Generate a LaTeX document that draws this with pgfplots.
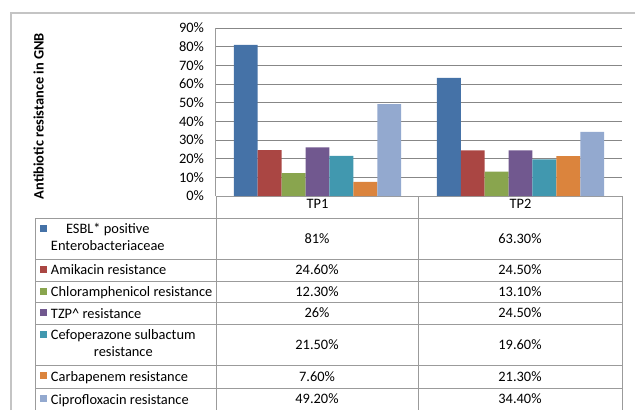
\documentclass[border=0pt]{standalone}
\usepackage{pgfplots}
\pgfplotsset{compat=1.18}
\usepackage{fontspec}
\setmainfont{Carlito}
\definecolor{sA}{HTML}{4572A7}
\definecolor{sB}{HTML}{AA4643}
\definecolor{sC}{HTML}{89A54E}
\definecolor{sD}{HTML}{71588F}
\definecolor{sE}{HTML}{4198AF}
\definecolor{sF}{HTML}{DB843D}
\definecolor{sG}{HTML}{93A9CF}
\definecolor{gridgray}{HTML}{878787}
\definecolor{tabgray}{HTML}{9B9B9B}
\definecolor{bordergray}{HTML}{C4C4C4}
\pgfplotsset{sqlegend/.style={legend image code/.code={\fill[##1] (0pt,2pt) rectangle (7pt,9pt);}}}
\newcommand{\one}[2]{\raisebox{0pt}[15.5pt][#1]{#2}}
\begin{document}
\begin{tikzpicture}[font=\fontsize{14.4}{16.5}\selectfont]
\path[use as bounding box] (0pt,0pt) rectangle (635pt,-410pt);
\draw[bordergray, line width=1.5pt] (11pt,-410pt) -- (11pt,-13pt) -- (635pt,-13pt);
\begin{axis}[
  at={(216pt,-196pt)}, anchor=south west,
  scale only axis, width=406pt, height=168pt,
  xmin=-0.5, xmax=1.5, ymin=0, ymax=90,
  ybar=0pt, bar width=23.9pt,
  axis lines*=left,
  axis line style={draw=tabgray, line width=1pt},
  xtick={0,1}, xticklabels={TP1,TP2},
  major tick length=0pt,
  ytick={0,10,...,90},
  yticklabel={\pgfmathprintnumber{\tick}\%},
  yticklabel style={anchor=east, xshift=-8.5pt},
  /pgf/number format/assume math mode=true,
  ymajorgrids, grid style={draw=gridgray, line width=1pt},
  ylabel={\bfseries Antibiotic resistance in GNB},
  ylabel style={at={(axis description cs:-0.4372,0.476)}, anchor=center},
  clip=false,
  legend style={at={(axis description cs:-0.43350,-0.13095)}, anchor=north west,
    draw=none, fill=none, inner sep=0pt, outer sep=0pt,
    row sep=0pt, column sep=4pt,
    nodes={inner sep=0pt, outer sep=0pt, text depth=},
    cells={anchor=base west}},
]
\addplot[fill=sA, draw=none, sqlegend] coordinates {(0,81) (1,63.3)};
\addlegendentry{\one{25.5pt}{\begin{tabular}[t]{@{}c@{}}ESBL* positive\\Enterobacteriaceae\end{tabular}}}
\addplot[fill=sB, draw=none, sqlegend] coordinates {(0,24.6) (1,24.5)};
\addlegendentry{\one{6.5pt}{Amikacin resistance}}
\addplot[fill=sC, draw=none, sqlegend] coordinates {(0,12.3) (1,13.1)};
\addlegendentry{\one{6pt}{Chloramphenicol resistance}}
\addplot[fill=sD, draw=none, sqlegend] coordinates {(0,26) (1,24.5)};
\addlegendentry{\one{6pt}{TZP\^{} resistance}}
\addplot[fill=sE, draw=none, sqlegend] coordinates {(0,21.5) (1,19.6)};
\addlegendentry{\one{26pt}{\begin{tabular}[t]{@{}c@{}}Cefoperazone sulbactum\\resistance\end{tabular}}}
\addplot[fill=sF, draw=none, sqlegend] coordinates {(0,7.6) (1,21.3)};
\addlegendentry{\one{7.5pt}{Carbapenem resistance}}
\addplot[fill=sG, draw=none, sqlegend] coordinates {(0,49.2) (1,34.4)};
\addlegendentry{\one{6pt}{Ciprofloxacin resistance}}
\end{axis}
% data table grid
\begin{scope}[tabgray, line width=1pt]
\draw (216pt,-196pt) -- (216pt,-410pt);
\draw (418pt,-196pt) -- (418pt,-410pt);
\draw (622pt,-196pt) -- (622pt,-410pt);
\draw (35pt,-218pt) -- (35pt,-410pt);
\foreach \yy in {218,259,281,302.5,324,365.5,388.5}
  \draw (35pt,-\yy pt) -- (622pt,-\yy pt);
\end{scope}
% table values
\foreach \yy/\a/\b in {243/81\%/63.30\%, 274.5/24.60\%/24.50\%, 296.25/12.30\%/13.10\%, 317.75/26\%/24.50\%, 349.25/21.50\%/19.60\%, 381.5/7.60\%/21.30\%, 403.75/49.20\%/34.40\%}{
  \node[anchor=base, inner sep=0pt] at (317pt,-\yy pt) {\a};
  \node[anchor=base, inner sep=0pt] at (520pt,-\yy pt) {\b};
}
\end{tikzpicture}
\end{document}
